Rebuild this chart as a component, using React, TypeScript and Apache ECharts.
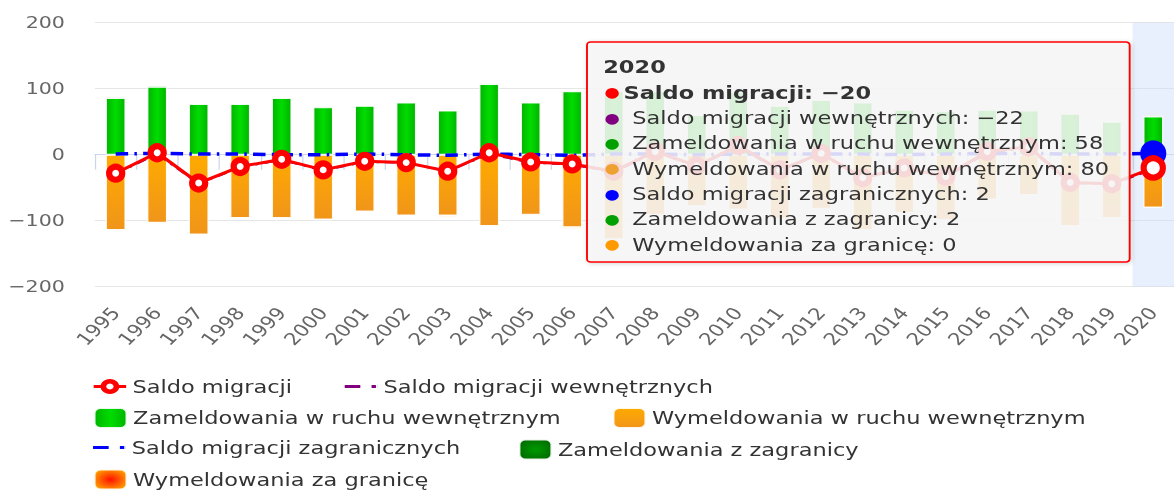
import React, { useEffect, useRef } from "react";
import * as echarts from "echarts";

// ---- data ----
const years = [
  "1995", "1996", "1997", "1998", "1999", "2000", "2001", "2002", "2003",
  "2004", "2005", "2006", "2007", "2008", "2009", "2010", "2011", "2012",
  "2013", "2014", "2015", "2016", "2017", "2018", "2019", "2020",
];
const saldoMigracji = [
  -28, 3, -43, -18, -7, -23, -10, -12, -25, 3, -11, -14, -25, 5, -17, 14,
  -23, 2, -35, -20, -33, 5, 12, -42, -44, -20,
];
const saldoWewnetrznych = [
  -29, 1, -44, -19, -8, -24, -11, -12, -25, 1, -12, -15, -27, 4, -18, 12,
  -24, 1, -36, -21, -34, 3, 10, -43, -45, -22,
];
const zameldowaniaWewn = [
  86, 103, 77, 77, 86, 72, 74, 79, 67, 107, 79, 96, 96, 96, 60, 95, 74, 83,
  79, 68, 66, 68, 67, 62, 50, 58,
];
const wymeldowaniaWewn = [
  114, 103, 121, 96, 96, 98, 86, 92, 92, 108, 91, 110, 128, 91, 78, 83, 97,
  82, 114, 88, 99, 68, 61, 108, 96, 80,
];
const saldoZagranicznych = [
  1, 2, 1, 1, 0, 0, 1, 0, -1, 1, 0, -1, 1, 1, 0, 1, 1, 1, 1, 0, 1, 2, 2, 1,
  1, 2,
];
const zameldowaniaZagr = [
  2, 2, 1, 1, 1, 1, 1, 1, 1, 2, 1, 1, 2, 1, 1, 2, 1, 1, 1, 1, 1, 2, 2, 1, 1,
  2,
];
const wymeldowaniaZagr = [
  1, 0, 0, 0, 1, 1, 0, 1, 2, 1, 1, 2, 1, 0, 1, 1, 0, 0, 0, 1, 0, 0, 0, 0, 0,
  0,
];
const yTicks = [-200, -100, 0, 100, 200];
const hoverYear = "2020";

// ---- presentation ----
const BASE_W = 940;
const STRETCH = 1174 / BASE_W;
const FONT = '"DejaVu Sans", Verdana, sans-serif';

const N_SALDO = "Saldo migracji";
const N_SWEW = "Saldo migracji wewnętrznych";
const N_ZWEW = "Zameldowania w ruchu wewnętrznym";
const N_WWEW = "Wymeldowania w ruchu wewnętrznym";
const N_SZAG = "Saldo migracji zagranicznych";
const N_ZZAG = "Zameldowania z zagranicy";
const N_WZAG = "Wymeldowania za granicę";

const DASH_DOT_ICON = "path://M0,0H12.5V3H0Z M21.5,0H25V3H21.5Z M25.9,0H26V3H25.9Z";

const fmt = (v: number) => (v < 0 ? "\u2212" + Math.abs(v) : String(v));

export default function App() {
  const ref = useRef<HTMLDivElement>(null);

  useEffect(() => {
    const el = ref.current;
    if (!el) return;
    const chart = echarts.init(el, null, { renderer: "svg" });
    const hi = years.indexOf(hoverYear);

    const greenFill = new echarts.graphic.LinearGradient(0, 0, 1, 0, [
      { offset: 0, color: "#00b400" },
      { offset: 0.5, color: "#00dc00" },
      { offset: 1, color: "#00b400" },
    ]);
    const orangeFill = new echarts.graphic.LinearGradient(0, 0, 0, 1, [
      { offset: 0, color: "#ffaa00" },
      { offset: 1, color: "#f0951a" },
    ]);
    const darkGreenFill = new echarts.graphic.RadialGradient(0.5, 0.5, 0.6, [
      { offset: 0, color: "#009a00" },
      { offset: 1, color: "#006a00" },
    ]);
    const redOrangeFill = new echarts.graphic.RadialGradient(0.5, 0.5, 0.6, [
      { offset: 0, color: "#ff1000" },
      { offset: 1, color: "#ffa500" },
    ]);

    const barBorder = { borderColor: "rgba(255,255,255,0.9)", borderWidth: 1 };

    const lastSymbol = (arr: number[], size: number[], color: string) =>
      arr.map((v, i) =>
        i === hi
          ? { value: v, symbol: "circle", symbolSize: size, itemStyle: { color, borderWidth: 0 } }
          : v
      );

    const legendBase = {
      padding: 0,
      selectedMode: false,
      itemWidth: 26,
      textStyle: { fontFamily: FONT, fontSize: 18, color: "#333333" },
    };
    const legends = [
      {
        data: [N_SALDO],
        left: 73.5,
        top: 377.5,
        itemHeight: 13,
        itemStyle: { borderWidth: 4.5 },
        lineStyle: { width: 3 },
      },
      { data: [{ name: N_SWEW, icon: DASH_DOT_ICON }], left: 276, top: 377.5, itemHeight: 3 },
      { data: [N_ZWEW], left: 74.5, top: 407, itemHeight: 20 },
      { data: [N_WWEW], left: 490, top: 407, itemHeight: 20 },
      { data: [{ name: N_SZAG, icon: DASH_DOT_ICON }], left: 74.5, top: 438.5, itemHeight: 3 },
      { data: [N_ZZAG], left: 414.7, top: 438.5, itemHeight: 20 },
      { data: [N_WZAG], left: 74.5, top: 468.5, itemHeight: 20 },
    ].map((l) => ({ ...legendBase, ...l }));

    const rows = [
      `{h|${years[hi]}}`,
      `{dr|●}{b|${N_SALDO}: ${fmt(saldoMigracji[hi])}}`,
      `{dp|●}{n|${N_SWEW}: ${fmt(saldoWewnetrznych[hi])}}`,
      `{dg|●}{n|${N_ZWEW}: ${fmt(zameldowaniaWewn[hi])}}`,
      `{do|●}{n|${N_WWEW}: ${fmt(wymeldowaniaWewn[hi])}}`,
      `{db|●}{n|${N_SZAG}: ${fmt(saldoZagranicznych[hi])}}`,
      `{dg|●}{n|${N_ZZAG}: ${fmt(zameldowaniaZagr[hi])}}`,
      `{dq|●}{n|${N_WZAG}: ${fmt(wymeldowaniaZagr[hi])}}`,
    ];
    const LH = 25.3;
    const dot = (c: string) => ({
      fontSize: 14,
      fontFamily: FONT,
      fill: c,
      lineHeight: LH,
      padding: [0, 3, 0, 1],
    });
    const txt = (w: string, padLeft: number, lh: number) => ({
      fontSize: 18,
      fontFamily: FONT,
      fill: "#333333",
      fontWeight: w,
      lineHeight: lh,
      padding: [0, 0, 0, padLeft],
    });

    const option: any = {
      animation: false,
      textStyle: { fontFamily: FONT },
      grid: { left: 76, right: -8.3, top: 22.7, bottom: 203.3, containLabel: false },
      tooltip: {
        trigger: "axis",
        triggerOn: "none",
        showContent: false,
        axisPointer: {
          type: "shadow",
          z: 1,
          shadowStyle: { color: "rgba(205,222,250,0.45)" },
        },
      },
      legend: legends,
      xAxis: {
        type: "category",
        data: years,
        boundaryGap: true,
        axisLine: { lineStyle: { color: "#ccd6eb", width: 1 } },
        axisTick: { show: true, interval: 0, length: 15, lineStyle: { color: "#ccd6eb" } },
        axisLabel: {
          interval: 0,
          rotate: 50,
          margin: 23,
          padding: [0, 0, 10, 0],
          fontSize: 17,
          color: "#666666",
          fontFamily: FONT,
        },
        splitLine: { show: false },
      },
      yAxis: {
        type: "value",
        min: yTicks[0],
        max: yTicks[yTicks.length - 1],
        interval: yTicks[1] - yTicks[0],
        axisLine: { show: false },
        axisTick: { show: false },
        axisLabel: {
          margin: 24,
          fontSize: 16.5,
          color: "#666666",
          fontFamily: FONT,
          formatter: (v: number) => fmt(v),
        },
        splitLine: { lineStyle: { color: "#e6e6e6", width: 1 } },
      },
      series: [
        {
          name: N_ZWEW,
          type: "bar",
          stack: "mig",
          barWidth: 16,
          data: zameldowaniaWewn,
          itemStyle: { color: greenFill, ...barBorder },
          emphasis: { disabled: true },
        },
        {
          name: N_ZZAG,
          type: "bar",
          stack: "mig",
          barWidth: 16,
          data: zameldowaniaZagr,
          itemStyle: { color: darkGreenFill, ...barBorder },
          emphasis: { disabled: true },
        },
        {
          name: N_WWEW,
          type: "bar",
          stack: "mig",
          barWidth: 16,
          data: wymeldowaniaWewn.map((v) => -v),
          itemStyle: { color: orangeFill, ...barBorder },
          emphasis: { disabled: true },
        },
        {
          name: N_WZAG,
          type: "bar",
          stack: "mig",
          barWidth: 16,
          data: wymeldowaniaZagr.map((v) => -v),
          itemStyle: { color: redOrangeFill, ...barBorder },
          emphasis: { disabled: true },
        },
        {
          name: N_SZAG,
          type: "line",
          symbol: "none",
          data: lastSymbol(saldoZagranicznych, [19, 24], "#0000ff"),
          itemStyle: { color: "#0000ff" },
          lineStyle: { color: "#0000ff", width: 3.5, type: [10, 5, 2, 5] },
          emphasis: { disabled: true },
          z: 3,
        },
        {
          name: N_SWEW,
          type: "line",
          symbol: "none",
          data: lastSymbol(saldoWewnetrznych, [12, 15], "#800080"),
          itemStyle: { color: "#800080" },
          lineStyle: { color: "#800080", width: 2, type: [8, 5, 2, 5] },
          emphasis: { disabled: true },
          z: 4,
        },
        {
          name: N_SALDO,
          type: "line",
          symbol: "circle",
          symbolSize: [10.5, 13],
          data: saldoMigracji.map((v, i) =>
            i === hi ? { value: v, symbolSize: [14, 17.5] } : v
          ),
          itemStyle: { color: "#ffffff", borderColor: "#ff0000", borderWidth: 5.5 },
          lineStyle: { color: "#ff0000", width: 3 },
          emphasis: { disabled: true },
          z: 5,
        },
      ],
      graphic: [
        {
          type: "group",
          x: 470,
          y: 42,
          z: 100,
          children: [
            {
              type: "rect",
              z: 100,
              shape: { x: 0, y: 0, width: 434.5, height: 220, r: 3 },
              style: {
                fill: "rgba(248,248,248,0.86)",
                stroke: "#ff0000",
                lineWidth: 1.5,
                shadowBlur: 4,
                shadowOffsetX: 1,
                shadowOffsetY: 1,
                shadowColor: "rgba(0,0,0,0.18)",
              },
            },
            {
              type: "text",
              z: 101,
              x: 13,
              y: 11,
              style: {
                text: rows.join("\n"),
                fill: "#333333",
                font: `18px ${FONT}`,
                rich: {
                  h: txt("bold", 0, 27),
                  b: txt("bold", 0, LH),
                  n: txt("normal", 7, LH),
                  dr: dot("#ff0000"),
                  dp: dot("#800080"),
                  dg: dot("#00a000"),
                  do: dot("#eea030"),
                  db: dot("#0000ff"),
                  dq: dot("#ff9900"),
                },
              },
            },
          ],
        },
      ],
    };

    chart.setOption(option);
    chart.dispatchAction({ type: "showTip", seriesIndex: 0, dataIndex: hi });
    return () => chart.dispose();
  }, []);

  return (
    <div
      ref={ref}
      style={{
        position: "absolute",
        left: 0,
        top: 0,
        width: BASE_W,
        height: 490,
        transform: `scaleX(${STRETCH})`,
        transformOrigin: "0 0",
      }}
    />
  );
}
